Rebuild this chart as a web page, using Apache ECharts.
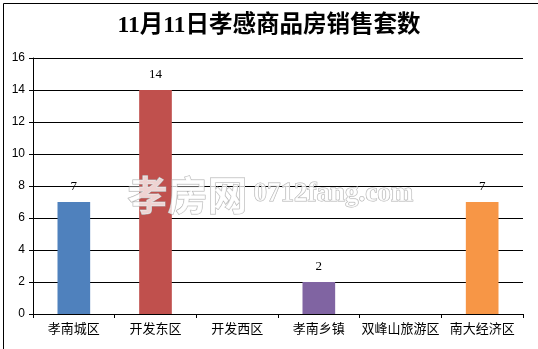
<!DOCTYPE html>
<html><head><meta charset="utf-8">
<script src="https://cdn.jsdelivr.net/npm/echarts@6/dist/echarts.min.js"></script>
<style>html,body{margin:0;padding:0;background:#fff}#c{width:538px;height:349px}</style>
</head><body><div id="c"></div>
<script>
var categories = ['孝南城区','开发东区','开发西区','孝南乡镇','双峰山旅游区','南大经济区'];
var values = [7, 14, 0, 2, 0, 7];
var barColors = ['#4F81BD','#C0504D','#4F81BD','#8064A2','#4F81BD','#F79646'];
var yTicks = [0,2,4,6,8,10,12,14,16];

var chart = echarts.init(document.getElementById('c'), null, {renderer:'canvas'});
chart.setOption({
  animation:false,
  backgroundColor:'#fff',
  title:{text:'11月11日孝感商品房销售套数', left:'center', top:9,
    textStyle:{fontFamily:'Liberation Serif, Noto Sans CJK SC', fontWeight:'bold', fontSize:23.5, color:'#000'}},
  grid:{left:33, right:15, top:58, bottom:35},
  xAxis:{type:'category', data:categories,
    axisLine:{lineStyle:{color:'#000', width:1}},
    axisTick:{show:true, length:4, lineStyle:{color:'#000'}},
    axisLabel:{color:'#000', fontSize:13, fontFamily:'Noto Sans CJK SC', margin:8, interval:0}},
  yAxis:{type:'value', min:0, max:16, interval:2,
    axisLine:{show:true, lineStyle:{color:'#000'}},
    axisTick:{show:true, length:4, lineStyle:{color:'#000'}},
    splitLine:{lineStyle:{color:'#000', width:1}},
    axisLabel:{color:'#000', fontSize:12, fontFamily:'Liberation Sans', margin:8,
      formatter:function(v){return yTicks.indexOf(v)>=0?String(v):'';}}},
  series:[{type:'bar', barWidth:'40%',
    data: values.map(function(v,i){return {value:v, itemStyle:{color:barColors[i]}};}),
    label:{show:true, position:'top', distance:9, color:'#000', fontSize:13, fontFamily:'Liberation Serif',
      formatter:function(p){return p.value ? String(p.value) : '';}}}],
  graphic:[
    {type:'rect', left:1, top:1, shape:{width:535, height:346}, style:{fill:'none', stroke:'#000', lineWidth:1}, z:-1, silent:true},
    {type:'text', left:127, top:174, z:100, silent:true,
      style:{text:'孝房网', font:'bold 40px "Noto Sans CJK SC"', fill:'rgba(255,255,255,0.75)', stroke:'#b0b0b0', lineWidth:1}},
    {type:'text', left:253, top:180, z:100, silent:true,
      style:{text:'0712fang.com', font:'bold 27px "Liberation Serif"', fill:'rgba(255,255,255,0.75)', stroke:'#b0b0b0', lineWidth:1}}
  ]
});
</script></body></html>
